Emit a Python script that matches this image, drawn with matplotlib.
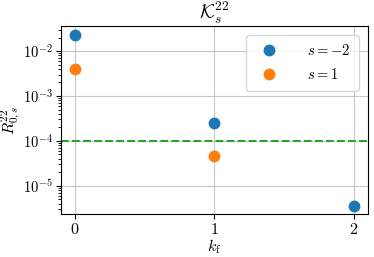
import matplotlib
matplotlib.use("Agg")
import matplotlib.pyplot as plt

plt.rcParams['mathtext.fontset'] = 'cm'
plt.rcParams['font.family'] = 'serif'
plt.rcParams['font.serif'] = ['cmr10', 'DejaVu Serif']
plt.rcParams['axes.formatter.use_mathtext'] = True
plt.rcParams['font.size'] = 11.5
plt.rcParams['xtick.labelsize'] = 11.5
plt.rcParams['ytick.labelsize'] = 10.5
plt.rcParams['xtick.major.pad'] = 2
plt.rcParams['ytick.major.pad'] = 2.5

k_m2 = [0, 1, 2]
R_m2 = [0.023, 2.5e-4, 3.6e-6]
k_p1 = [0, 1]
R_p1 = [0.004, 4.5e-5]
threshold = 1e-4

fig = plt.figure(figsize=(3.74, 2.57), dpi=100)
ax = fig.add_axes([0.163, 0.167, 0.821, 0.732])
ax.plot(k_m2, R_m2, 'o', ms=7.5, color='C0', label=r'$s=-2$')
ax.plot(k_p1, R_p1, 'o', ms=7.5, color='C1', label=r'$s=1$')
ax.axhline(threshold, color='C2', ls='--')
ax.set_yscale('log')
ax.set_ylim(10**-5.63, 10**-1.44)
ax.set_xticks([0, 1, 2])
ax.grid(True, alpha=0.7)
ax.set_title(r'$\mathcal{K}_s^{22}$', pad=3)
ax.set_ylabel(r'$R^{22}_{0,s}$')
ax.yaxis.set_label_coords(-0.125, 0.5)
ax.set_xlabel(r'$k_\mathrm{f}$')
ax.xaxis.set_label_coords(0.5, -0.125)
ax.legend(loc='upper right', borderpad=0.6, handletextpad=1.6, fontsize=10.5,
          labelspacing=0.6, borderaxespad=0.6)
fig.savefig('out.png', dpi=100)
